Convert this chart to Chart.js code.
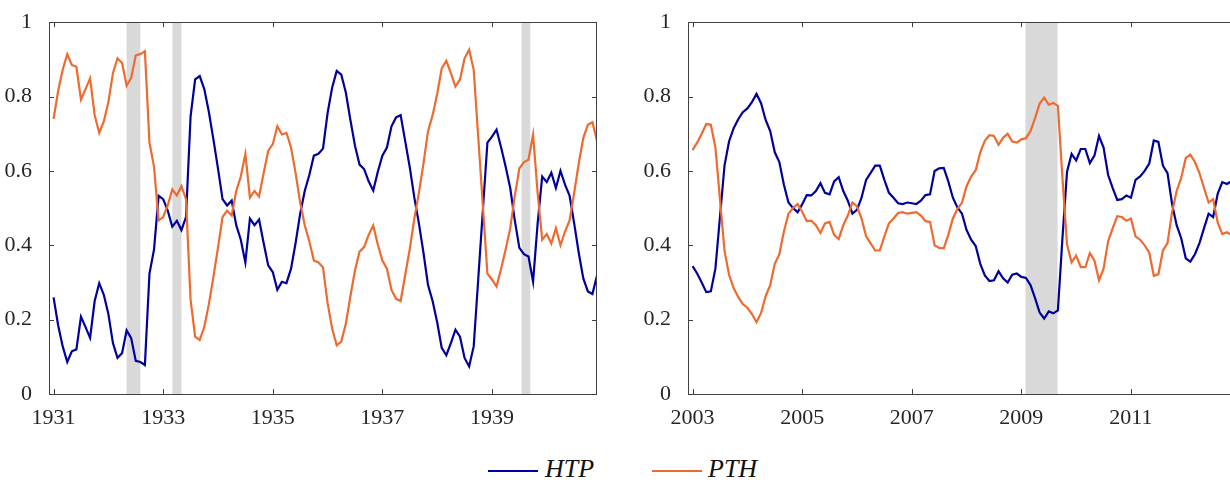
<!DOCTYPE html>
<html>
<head>
<meta charset="utf-8">
<script src="https://cdn.jsdelivr.net/npm/chart.js@4/dist/chart.umd.min.js"></script>
<style>
  html, body { margin: 0; padding: 0; background: #fff; overflow: hidden; width: 1230px; height: 485px; }
  .panel { position: absolute; top: 0; }
  .key { position: absolute; height: 2.3px; width: 50px; top: 469.6px; }
  .lab { position: absolute; top: 455.5px; font: italic 26px/26px "Liberation Serif", "Times New Roman", "DejaVu Serif", serif; color: #111; }
</style>
</head>
<body>
<div class="panel" style="left:0px"><canvas id="left-chart" width="610" height="440"></canvas></div>
<div class="panel" style="left:640px"><canvas id="right-chart" width="600" height="440"></canvas></div>

<div class="key" style="left:488px; background:#00009c"></div>
<span class="lab" style="left:545px">HTP</span>
<div class="key" style="left:652px; background:#ee6a2e"></div>
<span class="lab" style="left:708px">PTH</span>

<script>
// monthly shares, left panel starts Jan 1931, right panel starts Jan 2003
var start1931 = 1931;
var htp1931 = [0.26,0.185,0.128,0.086,0.115,0.12,0.208,0.18,0.151,0.25,0.298,0.267,
  0.215,0.137,0.097,0.11,0.171,0.15,0.089,0.086,0.078,0.324,0.389,0.533,
  0.524,0.493,0.45,0.466,0.441,0.476,0.746,0.846,0.855,0.82,0.759,0.685,
  0.607,0.524,0.507,0.52,0.454,0.415,0.354,0.472,0.454,0.469,0.406,0.346,
  0.328,0.28,0.302,0.298,0.337,0.406,0.485,0.546,0.589,0.641,0.646,0.66,
  0.755,0.824,0.869,0.859,0.811,0.737,0.668,0.617,0.605,0.572,0.547,0.598,
  0.641,0.663,0.72,0.744,0.75,0.68,0.61,0.528,0.459,0.38,0.293,0.25,
  0.193,0.124,0.104,0.137,0.173,0.154,0.097,0.074,0.128,0.31,0.493,0.676,
  0.692,0.711,0.663,0.611,0.554,0.467,0.393,0.376,0.37,0.302,0.459,0.585,
  0.57,0.595,0.554,0.6,0.563,0.533,0.459,0.38,0.311,0.276,0.269,0.319];
var pth1931 = [0.74,0.815,0.872,0.914,0.885,0.88,0.792,0.82,0.849,0.75,0.702,0.733,
  0.785,0.863,0.903,0.89,0.829,0.85,0.911,0.914,0.922,0.676,0.611,0.467,
  0.476,0.507,0.55,0.534,0.559,0.524,0.254,0.154,0.145,0.18,0.241,0.315,
  0.393,0.476,0.493,0.48,0.546,0.585,0.646,0.528,0.546,0.531,0.594,0.654,
  0.672,0.72,0.698,0.702,0.663,0.594,0.515,0.454,0.411,0.359,0.354,0.34,
  0.245,0.176,0.131,0.141,0.189,0.263,0.332,0.383,0.395,0.428,0.453,0.402,
  0.359,0.337,0.28,0.256,0.25,0.32,0.39,0.472,0.541,0.62,0.707,0.75,
  0.807,0.876,0.896,0.863,0.827,0.846,0.903,0.926,0.872,0.69,0.507,0.324,
  0.308,0.289,0.337,0.389,0.446,0.533,0.607,0.624,0.63,0.698,0.541,0.415,
  0.43,0.405,0.446,0.4,0.437,0.467,0.541,0.62,0.689,0.724,0.731,0.681];

var start2003 = 2003;
var htp2003 = [0.344,0.324,0.3,0.274,0.276,0.337,0.476,0.615,0.68,0.715,0.739,0.758,
  0.768,0.785,0.807,0.782,0.737,0.707,0.65,0.624,0.563,0.515,0.5,0.489,
  0.51,0.535,0.534,0.546,0.567,0.541,0.537,0.572,0.583,0.546,0.52,0.485,
  0.495,0.528,0.576,0.595,0.614,0.614,0.576,0.541,0.528,0.513,0.511,0.515,
  0.513,0.511,0.52,0.535,0.537,0.6,0.607,0.608,0.572,0.528,0.502,0.485,
  0.441,0.415,0.398,0.35,0.319,0.304,0.306,0.33,0.311,0.3,0.321,0.324,
  0.315,0.312,0.293,0.258,0.219,0.203,0.222,0.217,0.225,0.42,0.598,0.646,
  0.628,0.659,0.659,0.621,0.641,0.694,0.663,0.589,0.554,0.522,0.524,0.534,
  0.528,0.576,0.585,0.6,0.62,0.682,0.678,0.614,0.594,0.511,0.454,0.419,
  0.365,0.356,0.376,0.406,0.446,0.485,0.476,0.539,0.57,0.565,0.572];
var pth2003 = [0.656,0.676,0.7,0.726,0.724,0.663,0.524,0.385,0.32,0.285,0.261,0.242,
  0.232,0.215,0.193,0.218,0.263,0.293,0.35,0.376,0.437,0.485,0.5,0.511,
  0.49,0.465,0.466,0.454,0.433,0.459,0.463,0.428,0.417,0.454,0.48,0.515,
  0.505,0.472,0.424,0.405,0.386,0.386,0.424,0.459,0.472,0.487,0.489,0.485,
  0.487,0.489,0.48,0.465,0.463,0.4,0.393,0.392,0.428,0.472,0.498,0.515,
  0.559,0.585,0.602,0.65,0.681,0.696,0.694,0.67,0.689,0.7,0.679,0.676,
  0.685,0.688,0.707,0.742,0.781,0.797,0.778,0.783,0.775,0.58,0.402,0.354,
  0.372,0.341,0.341,0.379,0.359,0.306,0.337,0.411,0.446,0.478,0.476,0.466,
  0.472,0.424,0.415,0.4,0.38,0.318,0.322,0.386,0.406,0.489,0.546,0.581,
  0.635,0.644,0.624,0.594,0.554,0.515,0.524,0.461,0.43,0.435,0.428];

// shaded periods (decimal years)
var bands1931 = [[1932.333, 1932.583], [1933.167, 1933.333], [1939.54, 1939.70]];
var bands2003 = [[2009.075, 2009.66]];

var ticks1931 = [1931, 1933, 1935, 1937, 1939];
var ticks2003 = [2003, 2005, 2007, 2009, 2011];
var yTicks = [0, 0.2, 0.4, 0.6, 0.8, 1];

var blue = '#00009c';
var orange = '#ee6a2e';
var axisCol = '#404040';
var font = { family: "'Liberation Serif', 'Times New Roman', 'DejaVu Serif', serif", size: 22 };

function toPoints(start, vals) {
  return vals.map(function (v, i) { return { x: start + i / 12, y: v }; });
}

// grey bands under the lines, box and inward ticks on top
var framePlugin = {
  id: 'frame',
  beforeDatasetsDraw: function (chart, args, opts) {
    var ctx = chart.ctx, a = chart.chartArea, xs = chart.scales.x;
    ctx.save();
    ctx.beginPath();
    ctx.rect(a.left, a.top, a.right - a.left, a.bottom - a.top);
    ctx.clip();
    ctx.fillStyle = '#d9d9d9';
    opts.bands.forEach(function (b) {
      var x1 = xs.getPixelForValue(b[0]), x2 = xs.getPixelForValue(b[1]);
      ctx.fillRect(x1, a.top, x2 - x1, a.bottom - a.top);
    });
    ctx.restore();
  },
  afterDraw: function (chart) {
    var ctx = chart.ctx, a = chart.chartArea, xs = chart.scales.x, ys = chart.scales.y;
    var len = 5;
    ctx.save();
    ctx.strokeStyle = axisCol;
    ctx.lineWidth = 1;
    ctx.strokeRect(Math.round(a.left) + 0.5, Math.round(a.top) + 0.5,
      Math.round(a.right - a.left) - 1, Math.round(a.bottom - a.top));
    ctx.beginPath();
    xs.ticks.forEach(function (t) {
      var x = Math.round(xs.getPixelForValue(t.value)) + 0.5;
      ctx.moveTo(x, a.bottom); ctx.lineTo(x, a.bottom - len);
      ctx.moveTo(x, a.top); ctx.lineTo(x, a.top + len);
    });
    ys.ticks.forEach(function (t) {
      var y = Math.round(ys.getPixelForValue(t.value)) + 0.5;
      ctx.moveTo(a.left, y); ctx.lineTo(a.left + len, y);
      ctx.moveTo(a.right, y); ctx.lineTo(a.right - len, y);
    });
    ctx.stroke();
    ctx.restore();
  }
};

function makeChart(id, start, htp, pth, bands, xTicks, yWidth, padRight) {
  return new Chart(document.getElementById(id), {
    type: 'line',
    data: {
      datasets: [
        { label: 'HTP', data: toPoints(start, htp), borderColor: blue, borderWidth: 2.2,
          pointRadius: 0, fill: false, order: 2 },
        { label: 'PTH', data: toPoints(start, pth), borderColor: orange, borderWidth: 2.2,
          pointRadius: 0, fill: false, order: 1 }
      ]
    },
    options: {
      responsive: false,
      animation: false,
      layout: { padding: { top: 12, right: padRight, bottom: 0, left: 0 } },
      plugins: {
        legend: { display: false },
        tooltip: { enabled: false },
        frame: { bands: bands }
      },
      scales: {
        x: {
          type: 'linear',
          min: start - 1 / 12,
          max: start + 9 + 11 / 12,
          grid: { display: false },
          border: { display: false },
          afterBuildTicks: function (s) { s.ticks = xTicks.map(function (v) { return { value: v }; }); },
          afterFit: function (s) { s.height = 46; },
          ticks: { font: font, color: '#262626', padding: 3, maxRotation: 0,
            callback: function (v) { return String(v); } }
        },
        y: {
          min: 0,
          max: 1,
          grid: { display: false },
          border: { display: false },
          afterBuildTicks: function (s) { s.ticks = yTicks.map(function (v) { return { value: v }; }); },
          afterFit: function (s) { s.width = yWidth; },
          ticks: { font: font, color: '#262626', padding: 9,
            callback: function (v) { return String(Math.round(v * 10) / 10); } }
        }
      }
    },
    plugins: [framePlugin]
  });
}

makeChart('left-chart', start1931, htp1931, pth1931, bands1931, ticks1931, 49, 13);
makeChart('right-chart', start2003, htp2003, pth2003, bands2003, ticks2003, 48, 4);
</script>
</body>
</html>
